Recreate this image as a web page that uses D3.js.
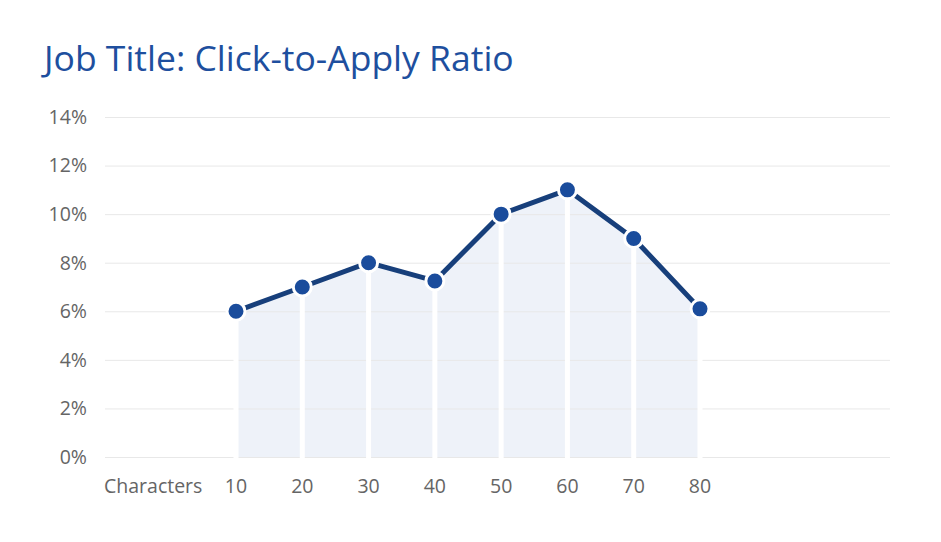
<!DOCTYPE html>
<html>
<head>
<meta charset="utf-8">
<script src="https://cdn.jsdelivr.net/npm/d3@7"></script>
<style>
  html, body { margin: 0; padding: 0; background: #ffffff; }
  svg { display: block; font-family: "Open Sans", "Noto Sans", sans-serif; }
</style>
</head>
<body>
<svg id="chart" width="941" height="542"></svg>
<script>
const title = "Job Title: Click-to-Apply Ratio";
const xAxisTitle = "Characters";
const categories = [10, 20, 30, 40, 50, 60, 70, 80];
const ratios = [6.0, 7.0, 8.0, 7.25, 10.0, 11.0, 9.0, 6.1];
const yTicks = [0, 2, 4, 6, 8, 10, 12, 14];

const data = categories.map((c, i) => ({ c, v: ratios[i] }));

const svg = d3.select("#chart");
const gridLeft = 105, gridRight = 890;
const yTop = 117, yBottom = 457;

const x = d3.scaleLinear().domain([10, 80]).range([236, 700]);
const y = d3.scaleLinear().domain([0, 14]).range([yBottom, yTop]);

svg.append("text")
  .attr("x", 44).attr("y", 71)
  .attr("fill", "#1e4f9e")
  .attr("font-size", 35.5)
  .text(title);

// area
svg.append("path")
  .datum(data)
  .attr("fill", "#eef2f9")
  .attr("d", d3.area().x(d => x(d.c)).y0(y(0)).y1(d => y(d.v)));

// gridlines
svg.append("g").selectAll("line").data(yTicks).join("line")
  .attr("x1", gridLeft).attr("x2", gridRight)
  .attr("y1", d => y(d) + 0.5).attr("y2", d => y(d) + 0.5)
  .attr("stroke", "#e8e8e8").attr("stroke-width", 1);

// y labels
svg.append("g").selectAll("text").data(yTicks).join("text")
  .attr("x", 87).attr("y", d => y(d)).attr("dy", "0.35em")
  .attr("text-anchor", "end")
  .attr("fill", "#656565").attr("font-size", 19.5)
  .text(d => d + "%");

// drop lines
svg.append("g").selectAll("line").data(data).join("line")
  .attr("x1", d => x(d.c)).attr("x2", d => x(d.c))
  .attr("y1", d => y(d.v)).attr("y2", y(0) + 1)
  .attr("stroke", "#ffffff").attr("stroke-width", 5);

// line
svg.append("path")
  .datum(data)
  .attr("fill", "none")
  .attr("stroke", "#173f7b")
  .attr("stroke-width", 5)
  .attr("stroke-linejoin", "round")
  .attr("d", d3.line().x(d => x(d.c)).y(d => y(d.v)));

// points
svg.append("g").selectAll("circle").data(data).join("circle")
  .attr("cx", d => x(d.c)).attr("cy", d => y(d.v))
  .attr("r", 9)
  .attr("fill", "#1a4c9c")
  .attr("stroke", "#ffffff").attr("stroke-width", 3);

// x labels
svg.append("g").selectAll("text").data(categories).join("text")
  .attr("x", d => x(d)).attr("y", 493)
  .attr("text-anchor", "middle")
  .attr("fill", "#656565").attr("font-size", 19.5)
  .text(d => d);

svg.append("text")
  .attr("x", 104).attr("y", 493)
  .attr("fill", "#656565").attr("font-size", 19.5)
  .text(xAxisTitle);
</script>
</body>
</html>
